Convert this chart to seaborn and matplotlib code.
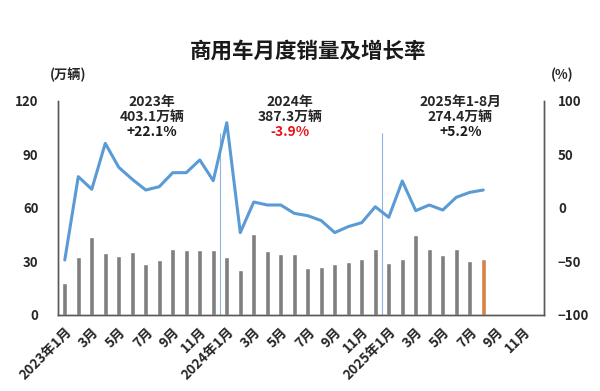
import numpy as np
import pandas as pd
import matplotlib
matplotlib.use("Agg")
import matplotlib.pyplot as plt
import seaborn as sns

# ── data ──────────────────────────────────────────────────────────────────────
sales = [17.8, 32.4, 43.6, 34.8, 32.9, 35.1, 28.6, 30.8, 37.2, 36.3, 36.6, 36.3,
         32.4, 25.1, 45.4, 35.7, 34.0, 34.0, 26.5, 27.1, 28.6, 29.9, 31.4, 36.8,
         29.2, 31.4, 44.7, 36.8, 33.5, 36.8, 30.3, 31.4]
growth = [-48.6, 29.3, 17.5, 60.4, 38.0, 26.8, 16.8, 19.9, 33.0, 33.0, 44.9, 25.5,
          79.7, -23.0, 5.6, 2.8, 2.8, -5.0, -7.2, -11.8, -23.0, -17.4, -13.7, 1.2,
          -8.7, 25.2, -2.5, 2.8, -1.9, 10.0, 14.6, 16.8]
tick_labels = ["2023年1月", "3月", "5月", "7月", "9月", "11月",
               "2024年1月", "3月", "5月", "7月", "9月", "11月",
               "2025年1月", "3月", "5月", "7月", "9月", "11月"]
year_notes = [("2023年", "403.1万辆", "+22.1%"),
              ("2024年", "387.3万辆", "-3.9%"),
              ("2025年1-8月", "274.4万辆", "+5.2%")]

df = pd.DataFrame({"idx": np.arange(len(sales)), "sales": sales, "growth": growth})
df["kind"] = ["cur" if i == len(sales) - 1 else "past" for i in df["idx"]]

sns.set_style("white")
plt.rcParams["font.family"] = ["Noto Sans CJK SC", "DejaVu Sans"]
plt.rcParams["font.weight"] = "bold"

fig = plt.figure(figsize=(6, 3.91), dpi=100)
ax = fig.add_axes([0.0967, 0.1944, 0.81, 0.5473])

sns.barplot(data=df, x="idx", y="sales", hue="kind", native_scale=True, dodge=False,
            palette={"past": "#7f7f7f", "cur": "#ed7d31"}, width=0.4,
            legend=False, ax=ax)
ax.set_xlim(-0.5, 35.5)
ax.set_ylim(0, 120)
ax.set_yticks([0, 30, 60, 90, 120])
ax.set_xticks(np.arange(0, 36, 2))
ax.set_xticklabels(tick_labels, rotation=45, ha="right", rotation_mode="anchor",
                   fontsize=9.8, fontweight="bold")
ax.tick_params(axis="y", labelsize=9.5, length=0, pad=14)
ax.tick_params(axis="x", length=0, pad=7)
for lab in ax.get_yticklabels():
    lab.set_fontweight("bold")
ax.set_xlabel("")
ax.set_ylabel("")

# year separators
for xv in (11.5, 23.5):
    ax.vlines(xv, 0, 102, color="#8db4e2", lw=0.8)

ax2 = ax.twinx()
sns.lineplot(data=df, x="idx", y="growth", color="#5b9bd5", lw=2.2, ax=ax2)
ax2.set_ylim(-100, 100)
ax2.set_yticks([-100, -50, 0, 50, 100])
ax2.tick_params(axis="y", labelsize=9.5, length=0, pad=10)
for lab in ax2.get_yticklabels():
    lab.set_fontweight("bold")
ax2.set_ylabel("")
ax2.set_xlim(-0.5, 35.5)

for a in (ax, ax2):
    for side in ("left", "right", "bottom"):
        a.spines[side].set_color("#595959")
        a.spines[side].set_linewidth(1.0)
    a.spines["top"].set_visible(False)

fig.text(0.513, 0.87, "商用车月度销量及增长率", ha="center", va="center",
         fontsize=15.5, fontweight="bold", color="#1a1a1a")
fig.text(0.113, 0.808, "(万辆)", ha="center", va="center", fontsize=9.5, fontweight="bold")
fig.text(0.937, 0.808, "(%)", ha="center", va="center", fontsize=9.5, fontweight="bold")

note_x = [6.45, 16.7, 29.3]
for xv, (yr, total, pct) in zip(note_x, year_notes):
    ax.text(xv, 119.5, yr, ha="center", va="center", fontsize=10, fontweight="bold")
    ax.text(xv, 111, total, ha="center", va="center", fontsize=10, fontweight="bold")
    ax.text(xv, 102.5, pct, ha="center", va="center", fontsize=10, fontweight="bold",
            color="#e8141c" if pct.startswith("-") else "#1a1a1a")

fig.savefig("out.png", dpi=100)
